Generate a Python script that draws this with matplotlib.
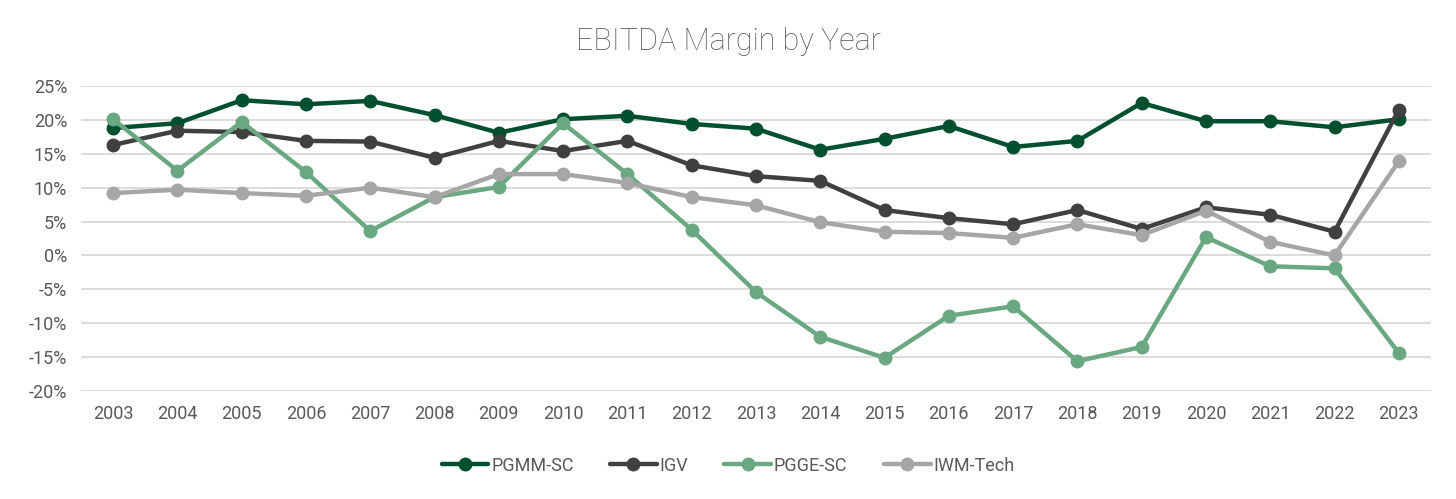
import numpy as np
import matplotlib.pyplot as plt
from matplotlib.ticker import FuncFormatter

plt.rcParams['font.family'] = ['Roboto', 'DejaVu Sans']

years = [str(y) for y in range(2003, 2024)]

# EBITDA margin, %
pgmm_sc = [18.8, 19.5, 22.9, 22.3, 22.8, 20.7, 18.1, 20.1, 20.6, 19.4, 18.7,
           15.6, 17.2, 19.1, 16.0, 16.9, 22.5, 19.8, 19.8, 18.9, 20.1]
igv = [16.3, 18.4, 18.2, 16.9, 16.8, 14.4, 16.9, 15.4, 16.9, 13.3, 11.7,
       11.0, 6.7, 5.5, 4.6, 6.7, 3.9, 7.1, 6.0, 3.5, 21.5]
pgge_sc = [20.1, 12.5, 19.7, 12.3, 3.6, 8.6, 10.1, 19.5, 12.0, 3.8, -5.4,
           -12.0, -15.1, -8.9, -7.5, -15.6, -13.5, 2.7, -1.6, -1.9, -14.4]
iwm_tech = [9.2, 9.7, 9.2, 8.8, 10.0, 8.6, 12.0, 12.0, 10.7, 8.6, 7.4,
            4.9, 3.5, 3.3, 2.6, 4.6, 3.0, 6.6, 2.0, 0.0, 13.9]

series = [
    ('PGMM-SC', pgmm_sc, '#005030'),
    ('IGV', igv, '#404040'),
    ('PGGE-SC', pgge_sc, '#6AA882'),
    ('IWM-Tech', iwm_tech, '#A6A6A6'),
]

txt = '#595959'

fig = plt.figure(figsize=(14.56, 4.99), dpi=100)
ax = fig.add_axes([0.0556, 0.2164, 0.9272, 0.6113])

x = np.arange(len(years))
for name, vals, col in series:
    ax.plot(x, vals, color=col, lw=3.2, marker='o', markersize=9,
            label=name, solid_capstyle='round', zorder=3)

ax.set_xlim(-0.5, len(years) - 0.5)
ax.set_ylim(-20, 25)
ax.set_yticks(np.arange(-20, 26, 5))
ax.yaxis.set_major_formatter(FuncFormatter(lambda v, p: f'{v:.0f}%'))
ax.set_xticks(x)
ax.set_xticklabels(years)

ax.grid(axis='y', color='#D9D9D9', lw=1.3, zorder=0)
for s in ax.spines.values():
    s.set_visible(False)
ax.tick_params(length=0, labelsize=13, labelcolor=txt, pad=10)

fig.suptitle('EBITDA Margin by Year', y=0.945, fontsize=22, color=txt,
             fontweight='light')

leg = fig.legend(loc='center', bbox_to_anchor=(0.5, 0.067), ncol=4,
                 frameon=False, fontsize=13, handlelength=2.6,
                 handletextpad=0.15, columnspacing=2.0)
for t in leg.get_texts():
    t.set_color(txt)

fig.savefig('out.png', dpi=100)
